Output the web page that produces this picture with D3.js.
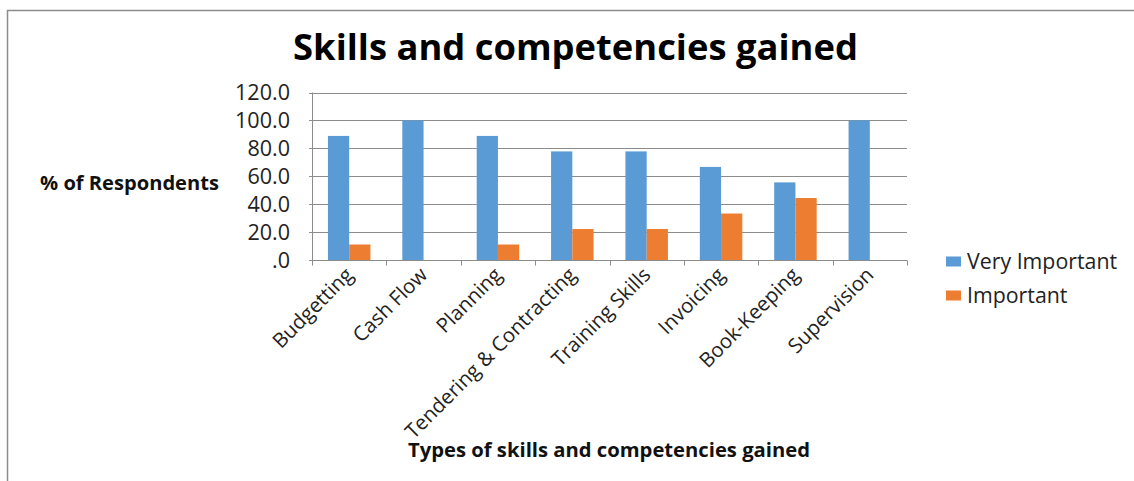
<!DOCTYPE html>
<html>
<head>
<meta charset="utf-8">
<script src="https://cdn.jsdelivr.net/npm/d3@7"></script>
<style>
  html, body { margin: 0; padding: 0; background: #fff; }
  svg { display: block; font-family: "Open Sans", "Liberation Sans", sans-serif; }
</style>
</head>
<body>
<svg id="chart" width="1134" height="481"></svg>
<script>
// Survey results: share of respondents rating each skill area
const categories = ["Budgetting", "Cash Flow", "Planning", "Tendering & Contracting",
                    "Training Skills", "Invoicing", "Book-Keeping", "Supervision"];
const seriesNames = ["Very Important", "Important"];
const veryImportant = [88.9, 100.0, 88.9, 77.8, 77.8, 66.7, 55.6, 100.0];
const important     = [11.1, 0.0, 11.1, 22.2, 22.2, 33.3, 44.4, 0.0];
const yTicks = [0, 20, 40, 60, 80, 100, 120];
const colors = ["#5B9BD5", "#ED7D31"];

const svg = d3.select("#chart");

// Fit a text element's font size so it spans the given width
function fitWidth(sel, target) {
  const w = sel.node().getComputedTextLength();
  const fs = parseFloat(sel.attr("font-size"));
  sel.attr("font-size", fs * target / w);
  return fs * target / w;
}

// Outer chart frame (top and left edges visible)
svg.append("path")
  .attr("d", "M7.5,481 L7.5,10.5 L1134,10.5")
  .attr("fill", "none").attr("stroke", "#8c8c8c").attr("stroke-width", 1.5);

const plot = { left: 312, right: 907, top: 92.5, bottom: 260 };

const x0 = d3.scaleBand().domain(categories)
  .range([plot.left, plot.right]).paddingInner(0).paddingOuter(0);
// Excel-style 150% gap width: the bar pair fills 2/3.5 of each band
const x1 = d3.scaleBand().domain(seriesNames)
  .range([x0.bandwidth() * 0.75 / 3.5, x0.bandwidth() * 2.75 / 3.5])
  .paddingInner(0).paddingOuter(0);

const y = d3.scaleLinear().domain([0, 120]).range([plot.bottom, plot.top]);

// Gridlines
svg.append("g")
  .selectAll("line").data(yTicks).join("line")
  .attr("x1", plot.left - 3).attr("x2", plot.right)
  .attr("y1", d => Math.round(y(d)) + 0.5).attr("y2", d => Math.round(y(d)) + 0.5)
  .attr("stroke", "#8c8c8c").attr("stroke-width", 1);

// Y axis line
svg.append("line")
  .attr("x1", plot.left + 0.5).attr("x2", plot.left + 0.5)
  .attr("y1", plot.top).attr("y2", plot.bottom)
  .attr("stroke", "#8c8c8c");

// Bars
const series = [veryImportant, important];
series.forEach((vals, si) => {
  svg.append("g").selectAll("rect").data(categories).join("rect")
    .attr("x", (c) => x0(c) + x1(seriesNames[si]))
    .attr("width", x1.bandwidth())
    .attr("y", (c, i) => y(vals[i]))
    .attr("height", (c, i) => y(0) - y(vals[i]))
    .attr("fill", colors[si]);
});

// X axis with tick marks at category boundaries
const xAxis = svg.append("g").attr("transform", `translate(0,${Math.round(plot.bottom) + 0.5})`);
xAxis.append("line").attr("x1", plot.left).attr("x2", plot.right).attr("stroke", "#8c8c8c");
const bounds = categories.map(c => x0(c)).concat([plot.right]);
xAxis.selectAll("line.tick").data(bounds).join("line").attr("class", "tick")
  .attr("x1", d => Math.round(d) + 0.5).attr("x2", d => Math.round(d) + 0.5)
  .attr("y1", 0).attr("y2", 5).attr("stroke", "#8c8c8c");

// Y tick labels
const ytl = svg.append("g").selectAll("text").data(yTicks).join("text")
  .attr("x", 290).attr("y", d => y(d))
  .attr("dy", "0.35em").attr("text-anchor", "end")
  .attr("font-size", 18).attr("fill", "#222")
  .text(d => d === 0 ? ".0" : d3.format(".1f")(d));
const tickFs = fitWidth(ytl.filter(d => d === 120), 55);
ytl.attr("font-size", tickFs);

// Category labels, rotated 45°
svg.append("g").selectAll("text").data(categories).join("text")
  .attr("transform", c => `translate(${x0(c) + x0.bandwidth() / 2 - 5},${plot.bottom + 6}) rotate(-45)`)
  .attr("text-anchor", "end").attr("dy", "0.7em")
  .attr("font-size", tickFs - 1.2).attr("fill", "#222")
  .text(c => c);

// Title
const title = svg.append("text").attr("x", 575.5).attr("y", 60)
  .attr("text-anchor", "middle").attr("font-weight", "bold").attr("font-size", 30)
  .attr("fill", "#000").text("Skills and competencies gained");
fitWidth(title, 565);

// Axis titles
const yt = svg.append("text").attr("x", 129.5).attr("y", 190)
  .attr("text-anchor", "middle").attr("font-weight", "bold").attr("font-size", 16)
  .attr("fill", "#111").text("% of Respondents");
fitWidth(yt, 179);

const xt = svg.append("text").attr("x", 609).attr("y", 457)
  .attr("text-anchor", "middle").attr("font-weight", "bold").attr("font-size", 16)
  .attr("fill", "#111").text("Types of skills and competencies gained");
fitWidth(xt, 402);

// Legend
const legend = svg.append("g");
const legendY = [261.5, 295.5];
seriesNames.forEach((name, i) => {
  legend.append("rect").attr("x", 946).attr("y", legendY[i] - 5).attr("width", 15).attr("height", 10)
    .attr("fill", colors[i]);
  const t = legend.append("text").attr("x", 967).attr("y", legendY[i]).attr("dy", "0.35em")
    .attr("font-size", tickFs).attr("fill", "#222").text(name);
  if (i === 0) fitWidth(t, 150);
});
legend.selectAll("text").attr("font-size", legend.select("text").attr("font-size"));
</script>
</body>
</html>
